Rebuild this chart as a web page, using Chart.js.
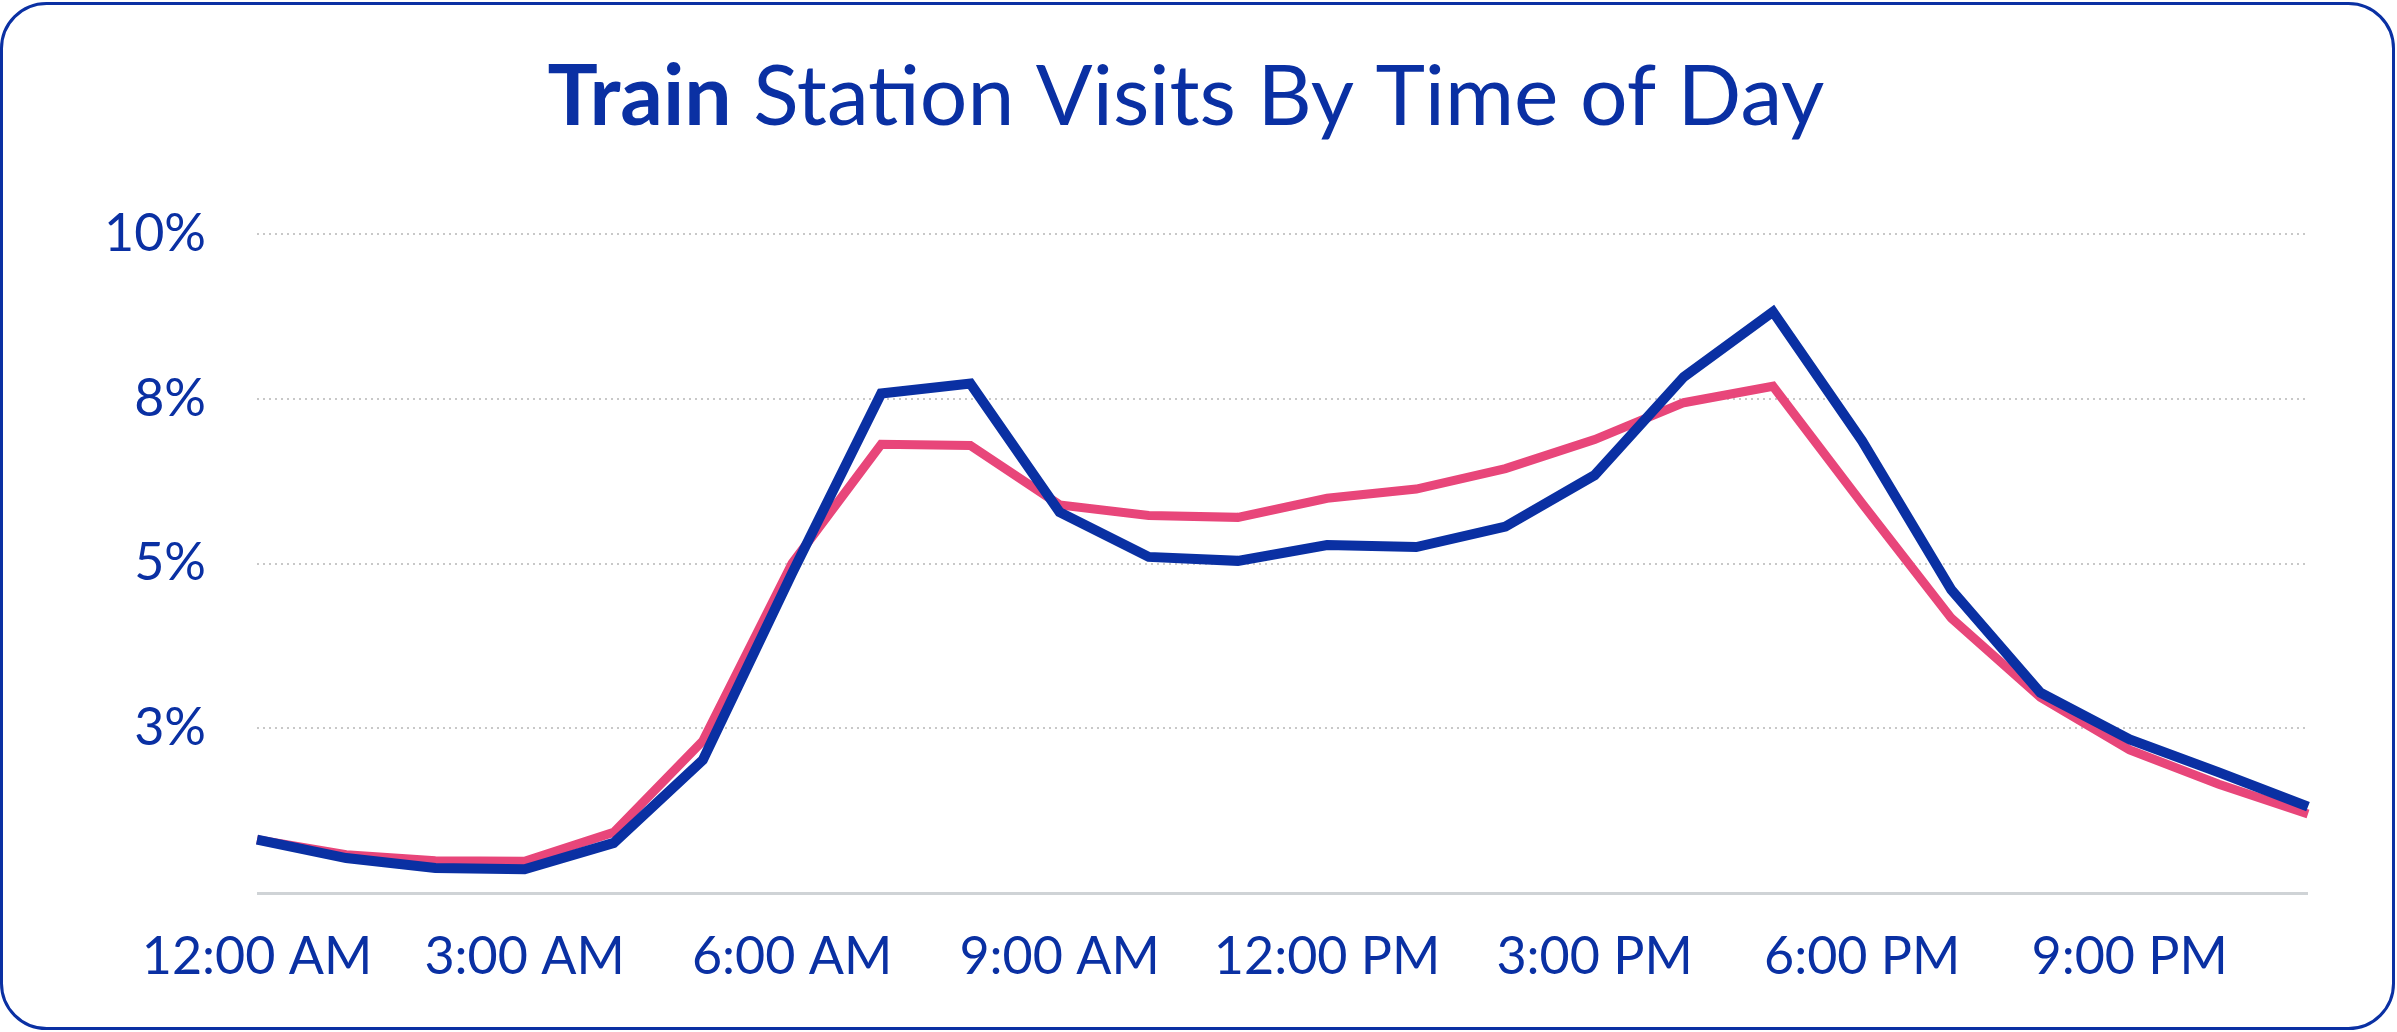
<!DOCTYPE html>
<html>
<head>
<meta charset="utf-8">
<script src="https://cdn.jsdelivr.net/npm/chart.js@4"></script>
<style>
html,body{margin:0;padding:0;background:#fff;}
#wrap{width:2397px;height:1032px;position:relative;}
canvas{display:block;}
</style>
</head>
<body>
<div id="wrap"><canvas id="c" width="2397" height="1032"></canvas></div>
<script>
// ---- data ----
const hours = ["12:00 AM","1:00 AM","2:00 AM","3:00 AM","4:00 AM","5:00 AM","6:00 AM","7:00 AM","8:00 AM","9:00 AM","10:00 AM","11:00 AM",
               "12:00 PM","1:00 PM","2:00 PM","3:00 PM","4:00 PM","5:00 PM","6:00 PM","7:00 PM","8:00 PM","9:00 PM","10:00 PM","11:00 PM"];
const trainStation = [0.81,0.53,0.38,0.36,0.76,2.02,4.85,7.58,7.73,5.78,5.10,5.04,5.28,5.25,5.56,6.34,7.83,8.82,6.86,4.60,3.04,2.33,1.83,1.31];
const benchmark    = [0.81,0.58,0.49,0.48,0.92,2.31,5.00,6.81,6.79,5.89,5.73,5.70,5.99,6.13,6.44,6.88,7.44,7.69,5.91,4.17,2.97,2.17,1.65,1.20];
const yTicks = [0, 2.5, 5, 7.5, 10];
const titleBold = "Train";
const titleRest = " Station Visits By Time of Day";

const BLUE = "#0a30a3";
const PINK = "#e8467a";
const FONT = "Lato";

const frame = {
  id: "frame",
  afterDraw(chart) {
    const ctx = chart.ctx;
    ctx.save();
    // title
    ctx.fillStyle = BLUE;
    ctx.textBaseline = "alphabetic";
    const fb = "700 84px " + FONT, fr = "400 84px " + FONT;
    ctx.font = fb; const wb = ctx.measureText(titleBold).width;
    ctx.font = fr; const wr = ctx.measureText(titleRest).width;
    const cx = 1186, by = 125;
    let x0 = cx - (wb + wr) / 2;
    ctx.font = fb; ctx.fillText(titleBold, x0, by);
    ctx.font = fr; ctx.fillText(titleRest, x0 + wb, by);
    // rounded border
    ctx.strokeStyle = BLUE;
    ctx.lineWidth = 3;
    ctx.beginPath();
    ctx.roundRect(1.5, 3.5, 2392, 1025, 45);
    ctx.stroke();
    ctx.restore();
  }
};

new Chart(document.getElementById("c"), {
  type: "line",
  data: {
    labels: hours,
    datasets: [
      { label: "Train Station", data: trainStation, borderColor: BLUE, borderWidth: 10,
        pointRadius: 0, tension: 0, fill: false, borderJoinStyle: "miter", borderCapStyle: "butt" },
      { label: "Benchmark", data: benchmark, borderColor: PINK, borderWidth: 9,
        pointRadius: 0, tension: 0, fill: false, borderJoinStyle: "miter", borderCapStyle: "butt" }
    ]
  },
  options: {
    responsive: false,
    animation: false,
    devicePixelRatio: 1,
    layout: { padding: { top: 234, right: 89, bottom: 0, left: 0 } },
    plugins: { legend: { display: false }, tooltip: { enabled: false }, title: { display: false } },
    scales: {
      x: {
        grid: { display: false, drawTicks: false },
        border: { display: false },
        ticks: {
          autoSkip: false, maxRotation: 0, minRotation: 0, padding: 33,
          color: BLUE, font: { family: FONT, size: 52 },
          callback: (v, i) => (i % 3 === 0 ? hours[i] : "")
        },
        afterFit: s => { s.height = 139; }
      },
      y: {
        min: 0, max: 10,
        afterBuildTicks: s => { s.ticks = yTicks.map(v => ({ value: v })); },
        grid: {
          drawTicks: false,
          color: c => (c.tick && c.tick.value === 0 ? "#cfd3d6" : "#c8c8c8"),
          lineWidth: c => (c.tick && c.tick.value === 0 ? 3 : 2)
        },
        border: { display: false, dash: c => (c.tick && c.tick.value === 0 ? [] : [2, 4]) },
        ticks: {
          padding: 51, color: BLUE, font: { family: FONT, size: 52 },
          callback: v => (v === 0 ? "" : Math.round(v) + "%")
        },
        afterFit: s => { s.width = 257; }
      }
    }
  },
  plugins: [frame]
});
</script>
</body>
</html>
